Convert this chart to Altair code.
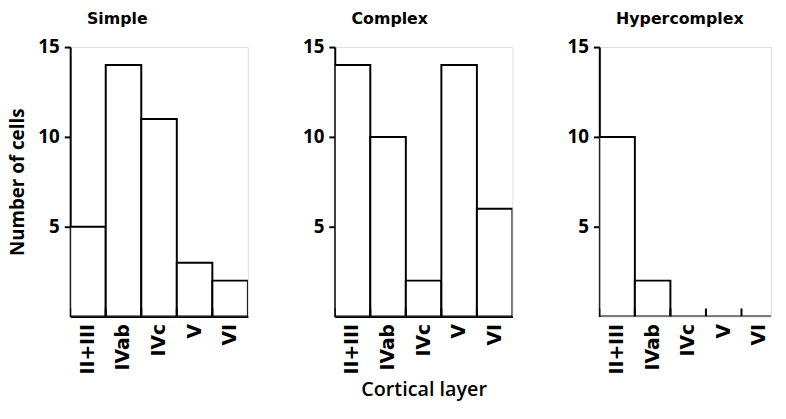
import altair as alt
import pandas as pd

layers = ["II+III", "IVab", "IVc", "V", "VI"]
simple_counts = [5, 14, 11, 3, 2]
complex_counts = [14, 10, 2, 14, 6]
hyper_counts = [10, 2, 0, 0, 0]
panel_titles = ["Simple", "Complex", "Hypercomplex"]
y_ticks = [5, 10, 15]
y_max = 15

FONT = "Open Sans"
LABEL_FONT = "DejaVu Sans"
PH = 273
EXT = 37


def panel(title, counts, y_title, x_title, width, band_range=None):
    df = pd.DataFrame({"layer": layers, "count": counts})
    scale_kw = dict(domain=layers, paddingInner=0, paddingOuter=0)
    if band_range is not None:
        scale_kw["range"] = band_range
    xscale = alt.Scale(**scale_kw)
    xaxis = alt.Axis(
        title=x_title, labelAngle=270, ticks=False, tickSize=0, labelPadding=7,
        domain=band_range is None, domainColor="black", domainWidth=2,
        labelFont=LABEL_FONT, labelFontSize=19, labelFontWeight="bold", labelColor="black",
        titleFont=FONT, titleFontSize=20, titleFontWeight=600, titleColor="black",
        titlePadding=6,
    )
    yaxis = alt.Axis(
        title=y_title, values=y_ticks, grid=False, tickSize=6, tickWidth=2,
        tickColor="black", domainColor="black", domainWidth=2,
        labelFont=FONT, labelFontSize=19, labelFontWeight="bold", labelColor="black",
        labelPadding=5, minExtent=EXT, maxExtent=EXT,
        titleFont=FONT, titleFontSize=19, titleFontWeight="bold", titleColor="black",
        titlePadding=6,
    )
    base = alt.Chart(df)
    bars = base.mark_bar(fill="white", stroke="black", strokeWidth=2, clip=True).encode(
        x=alt.X("layer:N", sort=layers, scale=xscale, axis=xaxis),
        y=alt.Y("count:Q", scale=alt.Scale(domain=[0, y_max], nice=False), axis=yaxis),
    )
    ticks = base.mark_rule(color="black", strokeWidth=2, clip=True).encode(
        x=alt.X("layer:N", sort=layers, bandPosition=0),
        y=alt.datum(0),
        y2=alt.datum(0.45),
    )
    return alt.layer(bars, ticks).properties(
        width=width, height=PH,
        title=alt.TitleParams(
            title, anchor="start", frame="group", dx=17, offset=11,
            font=LABEL_FONT, fontSize=16, fontWeight="bold", color="black",
        ),
    )


p1 = panel(panel_titles[0], simple_counts, "Number of cells", None, 180)
p2 = panel(panel_titles[1], complex_counts, None, "Cortical layer", 180)
p3 = panel(panel_titles[2], hyper_counts, None, None, 174, band_range=[0, 180])

chart = alt.hconcat(p1, p2, p3, spacing=49).properties(padding=0).configure_view(
    stroke=None
).configure(background="white")

chart.save("out.html", embed_options={"renderer": "svg", "actions": False})
